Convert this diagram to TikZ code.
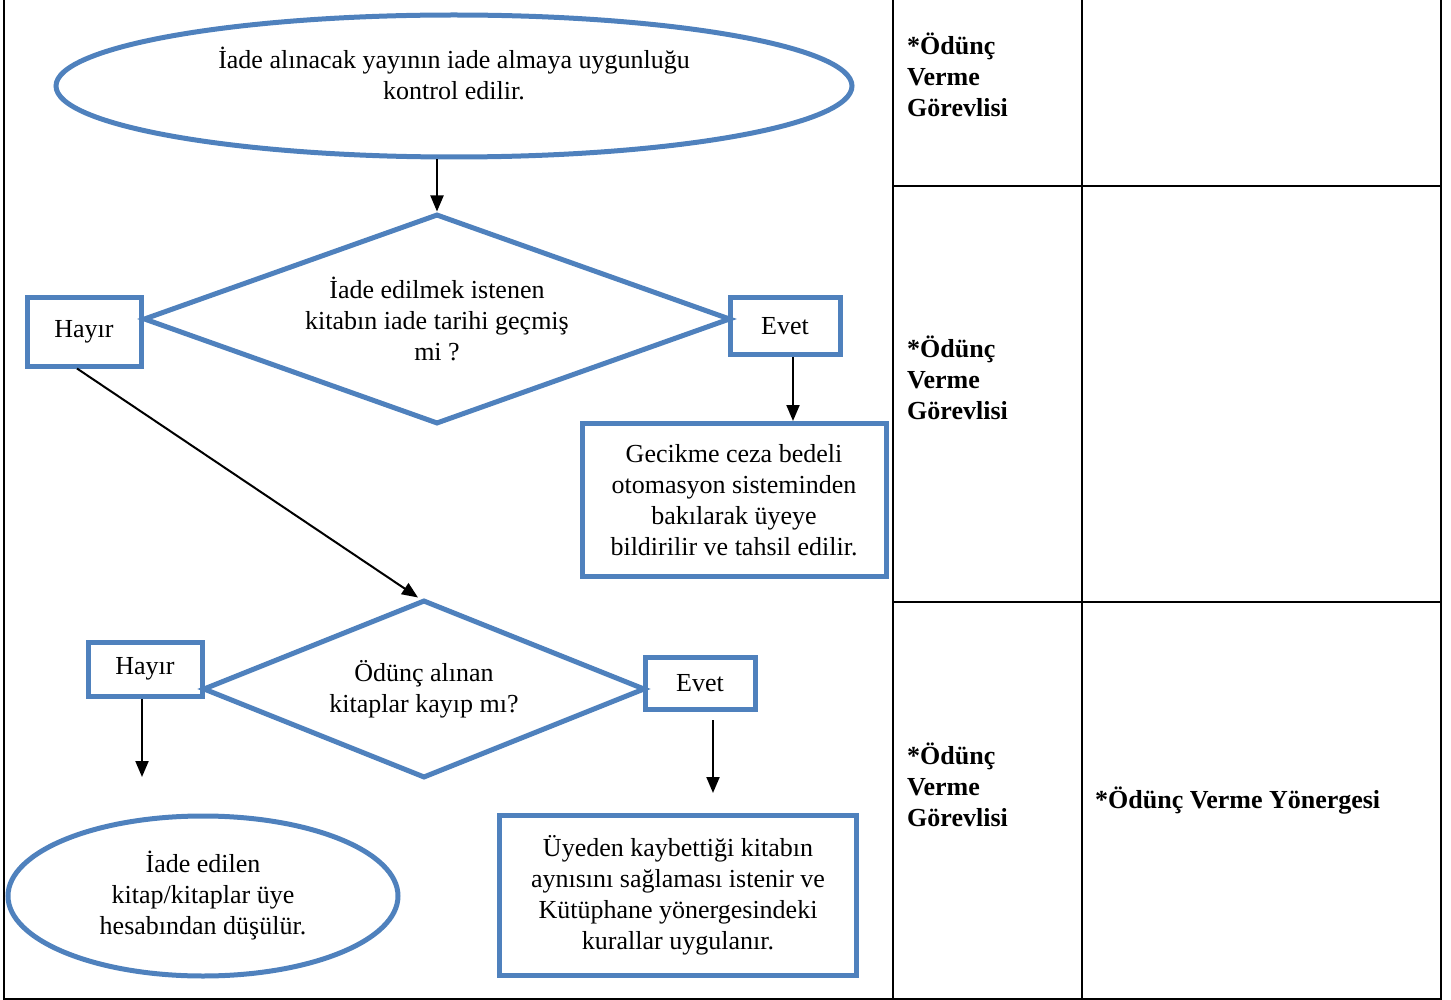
\documentclass[tikz,border=0pt]{standalone}
\usepackage{fontspec}
\setmainfont{Liberation Serif}
\usepackage{xcolor}
\usepackage{tikz}
\usetikzlibrary{arrows.meta, positioning, calc, shapes.geometric}

\definecolor{flowblue}{RGB}{79,129,189}

\tikzset{
	flow/.style={draw=flowblue, line width=5pt, align=center, inner sep=0pt},
	oval/.style={flow, ellipse},
	decision/.style={flow, diamond},
	answer/.style={flow, rectangle},
	procbox/.style={flow, rectangle},
	conn/.style={-{Triangle[length=16pt,width=13pt]}, line width=2pt},
	grid/.style={line width=2pt},
	cell/.style={font=\fontsize{26}{31}\selectfont\bfseries, align=left, inner sep=0pt}
}

\begin{document}
\begin{tikzpicture}[x=1pt, y=-1pt, every node/.style={font=\fontsize{26}{31}\selectfont}]
				
				\useasboundingbox (0,0) rectangle (1451,1000);
				
				% Table lines
				\draw[grid] (4,0) -- (4,999) -- (1441,999) -- (1441,0);
				\draw[grid] (893,0) -- (893,999);
				\draw[grid] (1082,0) -- (1082,999);
				\draw[grid] (893,186) -- (1441,186);
				\draw[grid] (893,602) -- (1441,602);
				
				% Start
				\node[oval, minimum width=796, minimum height=142] (start) at (454,86) {};
				\node[align=center, inner sep=0pt] (starttext) at (454,73) {İade alınacak yayının iade almaya uygunluğu\\kontrol edilir.};
				
				% First question
				\node[decision, aspect=2.8, minimum width=587, minimum height=210] (late) at (437,319) {İade edilmek istenen\\kitabın iade tarihi geçmiş\\mi ?};
				\node[answer, minimum width=114, minimum height=68] (no1) at (84,332) {Hayır};
				\node[answer, minimum width=110, minimum height=57] (yes1) at (785,326) {Evet};
				\node[procbox, minimum width=304, minimum height=153] (fine) at (734,500) {Gecikme ceza bedeli\\otomasyon sisteminden\\bakılarak üyeye\\bildirilir ve tahsil edilir.};
				
				% Second question
				\node[decision, aspect=2.5, minimum width=442, minimum height=178] (lost) at (424,689) {Ödünç alınan\\kitaplar kayıp mı?};
				\node[answer, minimum width=114, minimum height=54] (no2) at (145,669) {Hayır};
				\node[answer, minimum width=110, minimum height=52] (yes2) at (700,683) {Evet};
				
				% Results
				\node[oval, minimum width=390, minimum height=160] (drop) at (203,896) {İade edilen\\kitap/kitaplar üye\\hesabından düşülür.};
				\node[procbox, minimum width=357, minimum height=160] (replace) at (678,895) {Üyeden kaybettiği kitabın\\aynısını sağlaması istenir ve\\Kütüphane yönergesindeki\\kurallar uygulanır.};
				
				% Arrows
				\draw[conn] (start.south -| late.north) -- (late.north);
				\draw[conn] ([xshift=8pt]yes1.south) -- ([xshift=8pt]yes1.south |- fine.north);
				\draw[conn] ([xshift=-7pt]no1.south) -- ([xshift=-6pt]lost.north);
				\coordinate (no2end) at (142,777);
				\draw[conn] (no2.south -| no2end) -- (no2end);
				\coordinate (yes2from) at (713,720);
				\coordinate (yes2end) at (713,793);
				\draw[conn] (yes2from) -- (yes2end);
				
				% Responsible
				\node[cell, anchor=north west] (resp1) at (907,33) {*Ödünç\\Verme\\Görevlisi};
				\node[cell, anchor=north west] (resp2) at (907,336) {*Ödünç\\Verme\\Görevlisi};
				\node[cell, anchor=north west] (resp3) at (907,743) {*Ödünç\\Verme\\Görevlisi};
				
				% Document
				\node[cell, anchor=west] (doc3) at (1095,801) {*Ödünç Verme Yönergesi};
				
			\end{tikzpicture}
\end{document}
